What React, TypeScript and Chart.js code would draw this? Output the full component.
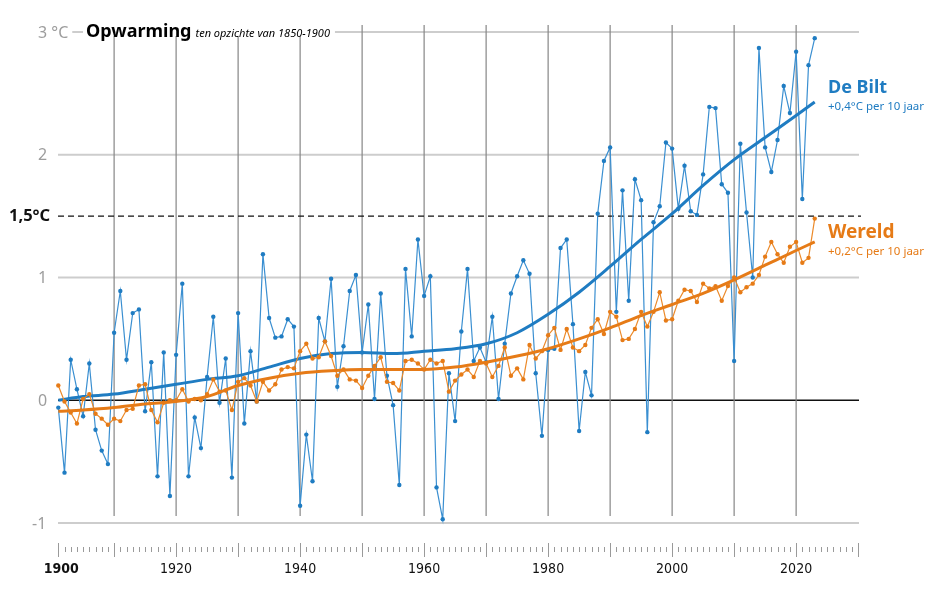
import React, { useEffect, useRef } from 'react';
import { Chart, registerables } from 'chart.js';

Chart.register(...registerables);

// ---- data ----
const years = [
  1901, 1902, 1903, 1904, 1905, 1906, 1907, 1908, 1909, 1910,
  1911, 1912, 1913, 1914, 1915, 1916, 1917, 1918, 1919, 1920,
  1921, 1922, 1923, 1924, 1925, 1926, 1927, 1928, 1929, 1930,
  1931, 1932, 1933, 1934, 1935, 1936, 1937, 1938, 1939, 1940,
  1941, 1942, 1943, 1944, 1945, 1946, 1947, 1948, 1949, 1950,
  1951, 1952, 1953, 1954, 1955, 1956, 1957, 1958, 1959, 1960,
  1961, 1962, 1963, 1964, 1965, 1966, 1967, 1968, 1969, 1970,
  1971, 1972, 1973, 1974, 1975, 1976, 1977, 1978, 1979, 1980,
  1981, 1982, 1983, 1984, 1985, 1986, 1987, 1988, 1989, 1990,
  1991, 1992, 1993, 1994, 1995, 1996, 1997, 1998, 1999, 2000,
  2001, 2002, 2003, 2004, 2005, 2006, 2007, 2008, 2009, 2010,
  2011, 2012, 2013, 2014, 2015, 2016, 2017, 2018, 2019, 2020,
  2021, 2022, 2023,
];

const deBilt = [
  -0.06, -0.59, 0.33, 0.09, -0.13, 0.30, -0.24, -0.41, -0.52, 0.55,
  0.89, 0.33, 0.71, 0.74, -0.09, 0.31, -0.62, 0.39, -0.78, 0.37,
  0.95, -0.62, -0.14, -0.39, 0.19, 0.68, -0.02, 0.34, -0.63, 0.71,
  -0.19, 0.40, -0.01, 1.19, 0.67, 0.51, 0.52, 0.66, 0.60, -0.86,
  -0.28, -0.66, 0.67, 0.48, 0.99, 0.11, 0.44, 0.89, 1.02, 0.39,
  0.78, 0.01, 0.87, 0.20, -0.04, -0.69, 1.07, 0.52, 1.31, 0.85,
  1.01, -0.71, -0.97, 0.22, -0.17, 0.56, 1.07, 0.32, 0.43, 0.31,
  0.68, 0.01, 0.46, 0.87, 1.01, 1.14, 1.03, 0.22, -0.29, 0.41,
  0.42, 1.24, 1.31, 0.62, -0.25, 0.23, 0.04, 1.52, 1.95, 2.06,
  0.72, 1.71, 0.81, 1.80, 1.63, -0.26, 1.45, 1.58, 2.10, 2.05,
  1.56, 1.91, 1.54, 1.51, 1.84, 2.39, 2.38, 1.76, 1.69, 0.32,
  2.09, 1.53, 1.00, 2.87, 2.06, 1.86, 2.12, 2.56, 2.34, 2.84,
  1.64, 2.73, 2.95,
];

const wereld = [
  0.12, -0.01, -0.10, -0.19, 0.01, 0.05, -0.11, -0.15, -0.20, -0.15,
  -0.17, -0.08, -0.07, 0.12, 0.13, -0.08, -0.18, -0.02, 0.00, 0.00,
  0.09, -0.01, 0.01, 0.00, 0.05, 0.17, 0.07, 0.08, -0.08, 0.15,
  0.18, 0.12, -0.01, 0.15, 0.08, 0.13, 0.25, 0.27, 0.26, 0.40,
  0.46, 0.34, 0.35, 0.48, 0.36, 0.20, 0.25, 0.17, 0.16, 0.10,
  0.20, 0.28, 0.35, 0.15, 0.14, 0.08, 0.32, 0.33, 0.30, 0.25,
  0.33, 0.30, 0.32, 0.07, 0.16, 0.21, 0.25, 0.19, 0.32, 0.30,
  0.19, 0.28, 0.43, 0.20, 0.26, 0.17, 0.45, 0.34, 0.40, 0.53,
  0.59, 0.41, 0.58, 0.43, 0.40, 0.45, 0.59, 0.66, 0.54, 0.72,
  0.68, 0.49, 0.50, 0.58, 0.72, 0.60, 0.72, 0.88, 0.65, 0.66,
  0.81, 0.90, 0.89, 0.80, 0.95, 0.91, 0.93, 0.81, 0.93, 1.00,
  0.88, 0.92, 0.95, 1.02, 1.17, 1.29, 1.19, 1.12, 1.25, 1.29,
  1.12, 1.16, 1.48,
];

// smoothed trend curves (read at anchor years)
const trendYears = [1901, 1905, 1910, 1915, 1920, 1925, 1930, 1935, 1940, 1945, 1950, 1955, 1960, 1965, 1970, 1975, 1980, 1985, 1990, 1995, 2000, 2005, 2010, 2015, 2020, 2023];
const deBiltTrend = [0.00, 0.03, 0.05, 0.09, 0.13, 0.17, 0.20, 0.27, 0.34, 0.38, 0.39, 0.38, 0.40, 0.42, 0.46, 0.55, 0.70, 0.88, 1.09, 1.31, 1.52, 1.75, 1.96, 2.14, 2.32, 2.43];
const wereldTrend = [-0.09, -0.08, -0.06, -0.03, -0.01, 0.03, 0.12, 0.18, 0.22, 0.24, 0.25, 0.25, 0.25, 0.27, 0.31, 0.36, 0.42, 0.50, 0.59, 0.69, 0.78, 0.87, 0.98, 1.10, 1.22, 1.29];

const yTickValues = [-1, 0, 1, 2, 3];
const yTickLabels = ['-1', '0', '1', '2', '3 °C'];
const decadeLines = [1910, 1920, 1930, 1940, 1950, 1960, 1970, 1980, 1990, 2000, 2010, 2020];
const xLabelYears = [1901, 1920, 1940, 1960, 1980, 2000, 2020];
const xLabelTexts = ['1900', '1920', '1940', '1960', '1980', '2000', '2020'];
const xTickFirst = 1901;
const xTickLast = 2030;
const thresholdValue = 1.5;
const thresholdLabel = '1,5°C';

const BLUE = '#1f7cc2';
const BLUE_LINE = '#3a8fd1';
const ORANGE = '#e67b17';
const ORANGE_LINE = '#ec8a2a';

const decorPlugin = {
  id: 'decor',
  beforeDatasetsDraw(chart: any) {
    const { ctx, chartArea, scales } = chart;
    const x = scales.x;
    const y = scales.y;
    ctx.save();
    for (const v of yTickValues) {
      const py = y.getPixelForValue(v);
      ctx.beginPath();
      ctx.strokeStyle = v === 0 ? '#111111' : '#cdcdcd';
      ctx.lineWidth = v === 0 ? 1.5 : 2;
      ctx.moveTo(chartArea.left, py);
      ctx.lineTo(chartArea.right, py);
      ctx.stroke();
    }
    ctx.strokeStyle = '#868686';
    ctx.lineWidth = 1.2;
    for (const d of decadeLines) {
      const px = x.getPixelForValue(d);
      ctx.beginPath();
      ctx.moveTo(px, chartArea.top - 7);
      ctx.lineTo(px, chartArea.bottom - 7);
      ctx.stroke();
    }
    const py15 = y.getPixelForValue(thresholdValue);
    ctx.beginPath();
    ctx.setLineDash([6, 4]);
    ctx.strokeStyle = '#111111';
    ctx.lineWidth = 1.4;
    ctx.moveTo(chartArea.left, py15);
    ctx.lineTo(chartArea.right + 2, py15);
    ctx.stroke();
    ctx.setLineDash([]);
    ctx.restore();
  },
  afterDraw(chart: any) {
    const { ctx, chartArea, scales } = chart;
    const x = scales.x;
    const y = scales.y;
    ctx.save();
    ctx.textBaseline = 'middle';

    ctx.font = '16px "Noto Sans"';
    yTickValues.forEach((v, i) => {
      const label = yTickLabels[i];
      const py = y.getPixelForValue(v);
      const w = ctx.measureText(label).width;
      const lx = label.startsWith('-') ? 32 : 38;
      ctx.fillStyle = '#ffffff';
      ctx.fillRect(lx - 2, py - 9, w + 6, 18);
      ctx.fillStyle = '#9d9d9d';
      ctx.textAlign = 'left';
      ctx.fillText(label, lx, py + 1);
    });

    ctx.font = 'bold 16.5px "Noto Sans"';
    ctx.fillStyle = '#111111';
    ctx.textAlign = 'left';
    ctx.fillText(thresholdLabel, 9, y.getPixelForValue(thresholdValue));

    ctx.textBaseline = 'alphabetic';
    ctx.font = 'bold 18px "Noto Sans"';
    const t1 = 'Opwarming';
    const t1w = ctx.measureText(t1).width;
    ctx.font = 'italic 11px "Noto Sans"';
    const t2 = 'ten opzichte van 1850-1900';
    const t2w = ctx.measureText(t2).width;
    const tx = 86;
    const tb = 37;
    ctx.fillStyle = '#ffffff';
    ctx.fillRect(tx - 3, chartArea.top - 12, t1w + t2w + 12, 16);
    ctx.fillStyle = '#000000';
    ctx.font = 'bold 18px "Noto Sans"';
    ctx.fillText(t1, tx, tb);
    ctx.font = 'italic 11px "Noto Sans"';
    ctx.fillText(t2, tx + t1w + 4, tb);

    ctx.fillStyle = BLUE;
    ctx.font = 'bold 18px "Noto Sans"';
    ctx.fillText('De Bilt', 828, 93);
    ctx.font = '11.5px "Noto Sans"';
    ctx.fillText('+0,4°C per 10 jaar', 828, 110);
    ctx.fillStyle = ORANGE;
    ctx.font = 'bold 19px "Noto Sans"';
    ctx.fillText('Wereld', 828, 238);
    ctx.font = '11.5px "Noto Sans"';
    ctx.fillText('+0,2°C per 10 jaar', 828, 255);

    ctx.strokeStyle = '#9a9a9a';
    ctx.lineWidth = 1;
    for (let yr = xTickFirst; yr <= xTickLast; yr++) {
      const px = Math.round(x.getPixelForValue(yr)) + 0.5;
      const major = yr % 10 === 0 || yr === xTickFirst;
      ctx.beginPath();
      ctx.moveTo(px, major ? 543 : 547);
      ctx.lineTo(px, major ? 557 : 552);
      ctx.stroke();
    }
    ctx.fillStyle = '#111111';
    ctx.textAlign = 'center';
    xLabelYears.forEach((yr, i) => {
      const px = x.getPixelForValue(yr);
      ctx.font = (i === 0 ? 'bold ' : '') + '14px "DejaVu Sans Condensed"';
      ctx.fillText(xLabelTexts[i], px + (i === 0 ? 3 : 0), 573);
    });
    ctx.restore();
  },
};

export default function App() {
  const canvasRef = useRef<HTMLCanvasElement | null>(null);

  useEffect(() => {
    const canvas = canvasRef.current;
    if (!canvas) return;
    const chart = new Chart(canvas, {
      type: 'line',
      data: {
        datasets: [
          {
            label: 'Wereld trend',
            data: trendYears.map((yr, i) => ({ x: yr, y: wereldTrend[i] })),
            borderColor: ORANGE,
            borderWidth: 3,
            pointRadius: 0,
            cubicInterpolationMode: 'monotone',
            clip: false,
            order: 1,
          },
          {
            label: 'Wereld',
            data: years.map((yr, i) => ({ x: yr, y: wereld[i] })),
            borderColor: ORANGE_LINE,
            borderWidth: 1.2,
            pointRadius: 2.2,
            pointBackgroundColor: ORANGE,
            pointBorderWidth: 0,
            tension: 0,
            clip: false,
            order: 2,
          },
          {
            label: 'De Bilt trend',
            data: trendYears.map((yr, i) => ({ x: yr, y: deBiltTrend[i] })),
            borderColor: BLUE,
            borderWidth: 3,
            pointRadius: 0,
            cubicInterpolationMode: 'monotone',
            clip: false,
            order: 3,
          },
          {
            label: 'De Bilt',
            data: years.map((yr, i) => ({ x: yr, y: deBilt[i] })),
            borderColor: BLUE_LINE,
            borderWidth: 1.2,
            pointRadius: 2.2,
            pointBackgroundColor: BLUE,
            pointBorderWidth: 0,
            tension: 0,
            clip: false,
            order: 4,
          },
        ],
      },
      options: {
        responsive: false,
        animation: false,
        devicePixelRatio: 1,
        events: [],
        layout: { padding: { left: 58, right: 90, top: 32, bottom: 80 } },
        scales: {
          x: { type: 'linear', min: 1900.95, max: 2030.14, display: false },
          y: { type: 'linear', min: -1, max: 3, display: false },
        },
        plugins: {
          legend: { display: false },
          tooltip: { enabled: false },
          title: { display: false },
        },
      },
      plugins: [decorPlugin],
    } as any);
    return () => chart.destroy();
  }, []);

  return (
    <div style={{ position: 'fixed', left: 0, top: 0, width: 949, height: 603, background: '#ffffff' }}>
      <canvas ref={canvasRef} width={949} height={603} style={{ width: 949, height: 603, display: 'block' }} />
    </div>
  );
}
